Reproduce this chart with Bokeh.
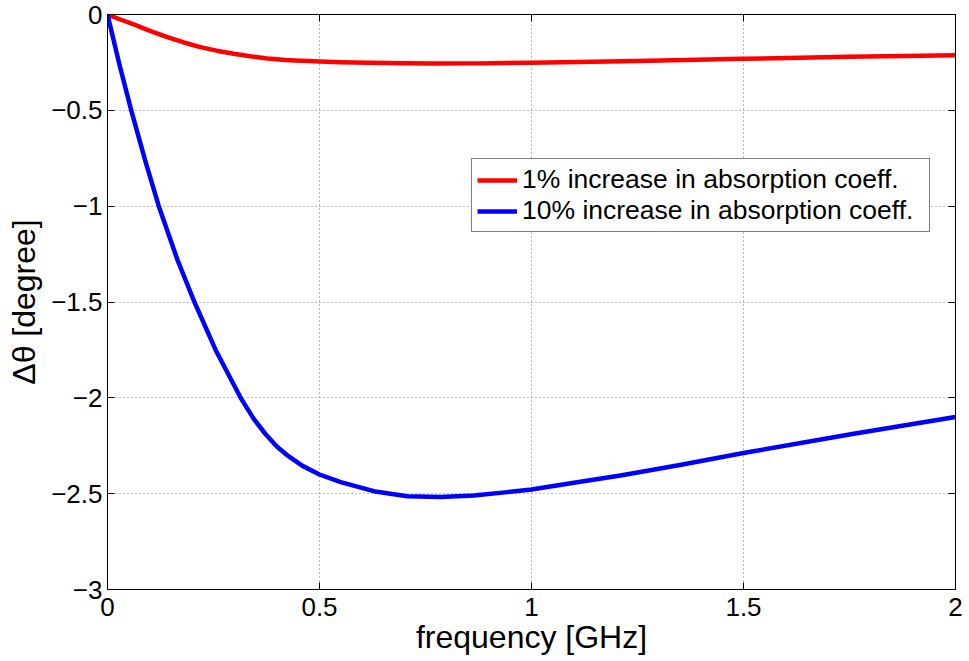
from bokeh.plotting import figure
from bokeh.models import (Range1d, LinearAxis, FixedTicker, CustomJSTickFormatter,
                          Legend, LegendItem)
from bokeh.embed import file_html
from bokeh.resources import INLINE

# ---- data ----
freq_red = [0.0, 0.03, 0.062, 0.10, 0.141, 0.18, 0.219, 0.26, 0.298, 0.34, 0.377, 0.42,
            0.455, 0.5, 0.55, 0.612, 0.69, 0.77, 0.88, 1.0, 1.25, 1.5, 1.75, 2.0]
dtheta_red = [0.0, -0.026, -0.052, -0.085, -0.118, -0.146, -0.17, -0.19, -0.205, -0.219,
              -0.229, -0.237, -0.241, -0.245, -0.249, -0.252, -0.254, -0.256, -0.255,
              -0.252, -0.242, -0.231, -0.221, -0.212]

freq_blue = [0.0, 0.028, 0.056, 0.09, 0.121, 0.165, 0.205, 0.255, 0.314, 0.345, 0.373,
             0.40, 0.424, 0.46, 0.5, 0.55, 0.628, 0.707, 0.785, 0.864, 0.943, 1.0, 1.10,
             1.21, 1.35, 1.5, 1.76, 2.0]
dtheta_blue = [0.0, -0.26, -0.5, -0.77, -1.0, -1.28, -1.5, -1.75, -2.0, -2.11, -2.19,
               -2.255, -2.30, -2.355, -2.40, -2.44, -2.487, -2.513, -2.518, -2.509,
               -2.492, -2.478, -2.443, -2.405, -2.35, -2.288, -2.187, -2.10]

x_ticks = [0, 0.5, 1, 1.5, 2]
y_ticks = [-3, -2.5, -2, -1.5, -1, -0.5, 0]
labels = ["1% increase in absorption coeff.", "10% increase in absorption coeff."]
x_label = "frequency [GHz]"
y_label = "\u0394\u03b8 [degree]"

FONT = "Liberation Sans"

p = figure(width=969, height=661, x_range=Range1d(0, 2), y_range=Range1d(-3, 0),
           output_backend="svg", toolbar_location=None,
           min_border_left=107, min_border_right=14, min_border_top=14,
           min_border_bottom=72, background_fill_color="white",
           border_fill_color="white")
p.outline_line_color = "black"
p.outline_line_width = 1

fmt = CustomJSTickFormatter(code="""
    return tick < 0 ? "\\u2212" + String(Math.abs(tick)) : String(tick);
""")

for ax in (p.xaxis[0], p.yaxis[0]):
    ax.major_label_text_font = FONT
    ax.major_label_text_font_size = "26px"
    ax.major_label_text_color = "black"
    ax.axis_label_text_font = FONT
    ax.axis_label_text_font_size = "32px"
    ax.axis_label_text_font_style = "normal"
    ax.axis_label_text_color = "black"
    ax.major_tick_in = 7
    ax.major_tick_out = 0
    ax.minor_tick_line_color = None
    ax.axis_line_color = "black"
    ax.major_tick_line_color = "black"
    ax.formatter = fmt

p.xaxis[0].ticker = FixedTicker(ticks=x_ticks)
p.yaxis[0].ticker = FixedTicker(ticks=y_ticks)
p.xaxis[0].axis_label = x_label
p.yaxis[0].axis_label = y_label
p.xaxis[0].major_label_standoff = 8
p.xaxis[0].axis_label_standoff = 0
p.yaxis[0].major_label_standoff = 5
p.yaxis[0].axis_label_standoff = 6

# mirrored axes (ticks only) on top and right
top = LinearAxis(ticker=FixedTicker(ticks=x_ticks), major_label_text_font_size="0px",
                 major_label_standoff=0, major_tick_in=7, major_tick_out=0,
                 minor_tick_line_color=None, axis_line_color="black")
right = LinearAxis(y_range_name="default", ticker=FixedTicker(ticks=y_ticks),
                   major_label_text_font_size="0px", major_label_standoff=0,
                   major_tick_in=7, major_tick_out=0, minor_tick_line_color=None,
                   axis_line_color="black")
p.add_layout(top, "above")
p.add_layout(right, "right")

p.xgrid.ticker = FixedTicker(ticks=x_ticks)
p.ygrid.ticker = FixedTicker(ticks=y_ticks)
p.grid.grid_line_color = "#555555"
p.grid.grid_line_dash = "1 3"
p.grid.grid_line_width = 1
p.grid.grid_line_alpha = 0.8

r1 = p.line(freq_red, dtheta_red, line_color="#ff0000", line_width=4.5,
            line_join="round")
r2 = p.line(freq_blue, dtheta_blue, line_color="#0000ff", line_width=4.5,
            line_join="round")

legend = Legend(items=[LegendItem(label=labels[0], renderers=[r1]),
                       LegendItem(label=labels[1], renderers=[r2])],
                location=(364, 357), orientation="vertical",
                border_line_color="black", border_line_width=1,
                background_fill_color="white", background_fill_alpha=1,
                label_text_font=FONT, label_text_font_size="26.5px",
                label_text_color="black",
                glyph_width=40, glyph_height=28, label_height=28,
                label_width=402, label_standoff=5, padding=5, spacing=0,
                margin=0)
p.add_layout(legend, "center")

open("out.html", "w").write(file_html(p, INLINE))
